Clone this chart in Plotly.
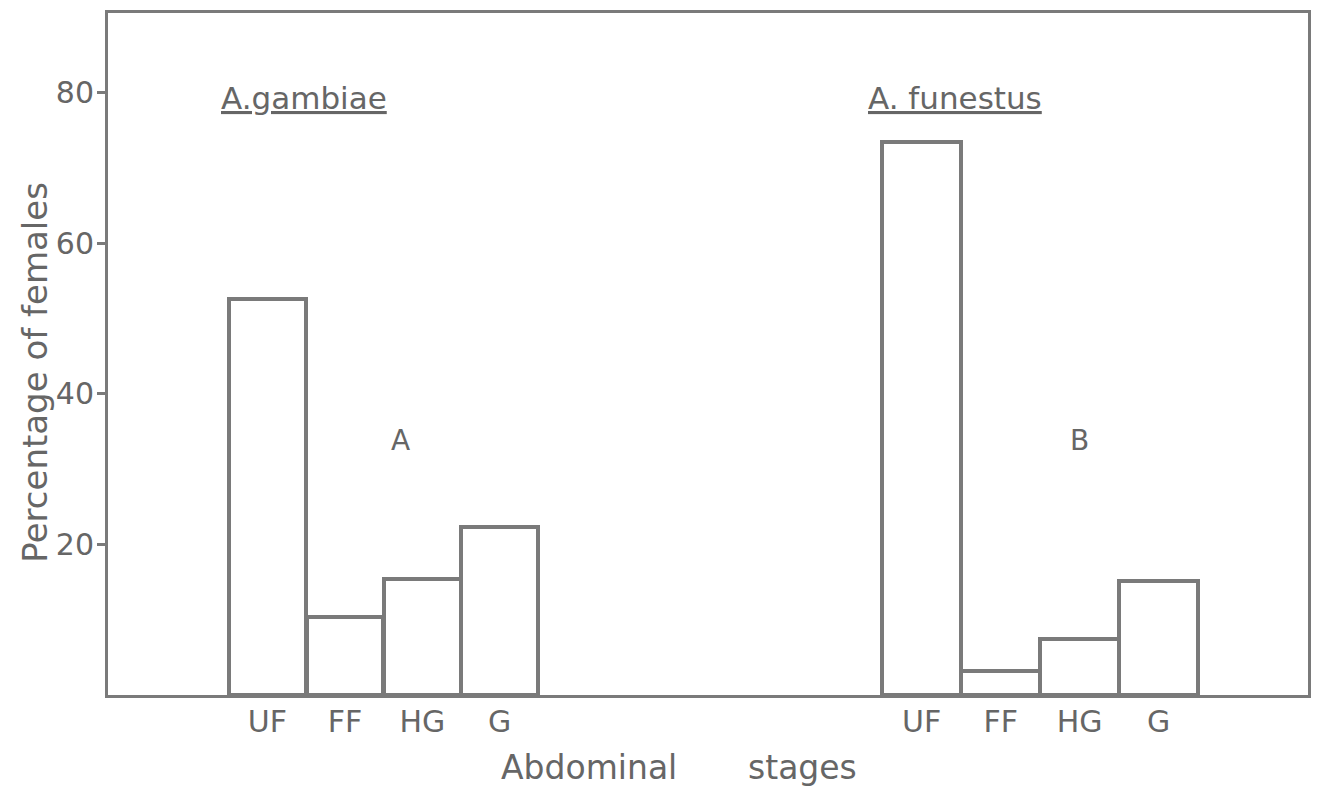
import plotly.graph_objects as go

# Abdominal stages and percentage of females in each stage
stages = ["UF", "FF", "HG", "G"]
gambiae_pct = [52.6, 10.3, 15.4, 22.3]
funestus_pct = [73.5, 3.2, 7.5, 15.2]
y_ticks = [20, 40, 60, 80]

INK = "#7a7a7a"
TEXT = "#666666"
FONT = "DejaVu Sans"

# left edge of each group of adjacent bars, in bar-width units
gambiae_start = 1.56
funestus_start = 10.01
gambiae_x = [gambiae_start + 0.5 + i for i in range(len(stages))]
funestus_x = [funestus_start + 0.5 + i * 1.02 for i in range(len(stages))]

fig = go.Figure()
fig.add_trace(go.Bar(
    x=gambiae_x, y=gambiae_pct, width=0.99,
    marker=dict(color="white", line=dict(color=INK, width=4)),
    showlegend=False, hoverinfo="skip",
))
fig.add_trace(go.Bar(
    x=funestus_x, y=funestus_pct, width=1.02,
    marker=dict(color="white", line=dict(color=INK, width=4)),
    showlegend=False, hoverinfo="skip",
))

fig.update_layout(
    width=1321, height=788,
    margin=dict(l=108, r=10, t=12, b=93),
    paper_bgcolor="white", plot_bgcolor="white",
    font=dict(family=FONT, color=TEXT, size=30),
    bargap=0, barmode="overlay",
    xaxis=dict(
        range=[0, 15.5], showgrid=False, zeroline=False,
        showline=True, mirror=True, linecolor=INK, linewidth=3,
        tickmode="array", tickvals=gambiae_x + funestus_x,
        ticktext=stages + stages, ticks="", ticklabelstandoff=-2,
        tickfont=dict(family=FONT, size=30, color=TEXT),
    ),
    yaxis=dict(
        range=[0, 90.6], showgrid=False, zeroline=False,
        showline=True, mirror=True, linecolor=INK, linewidth=3,
        tickmode="array", tickvals=y_ticks,
        ticktext=[str(v) for v in y_ticks],
        ticks="outside", ticklen=8, tickwidth=3, tickcolor=INK,
        ticklabelstandoff=-3,
        tickfont=dict(family=FONT, size=30, color=TEXT),
    ),
)

annots = [
    dict(text="<u>A.gambiae</u>", x=(304 - 108) / 1203, y=(695 - 97) / 683, size=31),
    dict(text="<u>A. funestus</u>", x=(957 - 108) / 1203, y=(695 - 97) / 683, size=31),
    dict(text="A", x=(401 - 108) / 1203, y=(695 - 440) / 683, size=28),
    dict(text="B", x=(1082 - 108) / 1203, y=(695 - 440) / 683, size=28),
    dict(text="Abdominal", x=(590 - 108) / 1203, y=(695 - 768) / 683, size=33),
    dict(text="stages", x=(804 - 108) / 1203, y=(695 - 768) / 683, size=33),
]
for a in annots:
    fig.add_annotation(
        text=a["text"], x=a["x"], y=a["y"], xref="paper", yref="paper",
        showarrow=False, xanchor="center", yanchor="middle",
        font=dict(family=FONT, size=a["size"], color=TEXT),
    )

fig.add_annotation(
    text="Percentage of females", textangle=-90,
    x=(35 - 108) / 1203, y=(695 - 372) / 683, xref="paper", yref="paper",
    showarrow=False, xanchor="center", yanchor="middle",
    font=dict(family=FONT, size=34, color=TEXT),
)

fig.write_html("out.html")
